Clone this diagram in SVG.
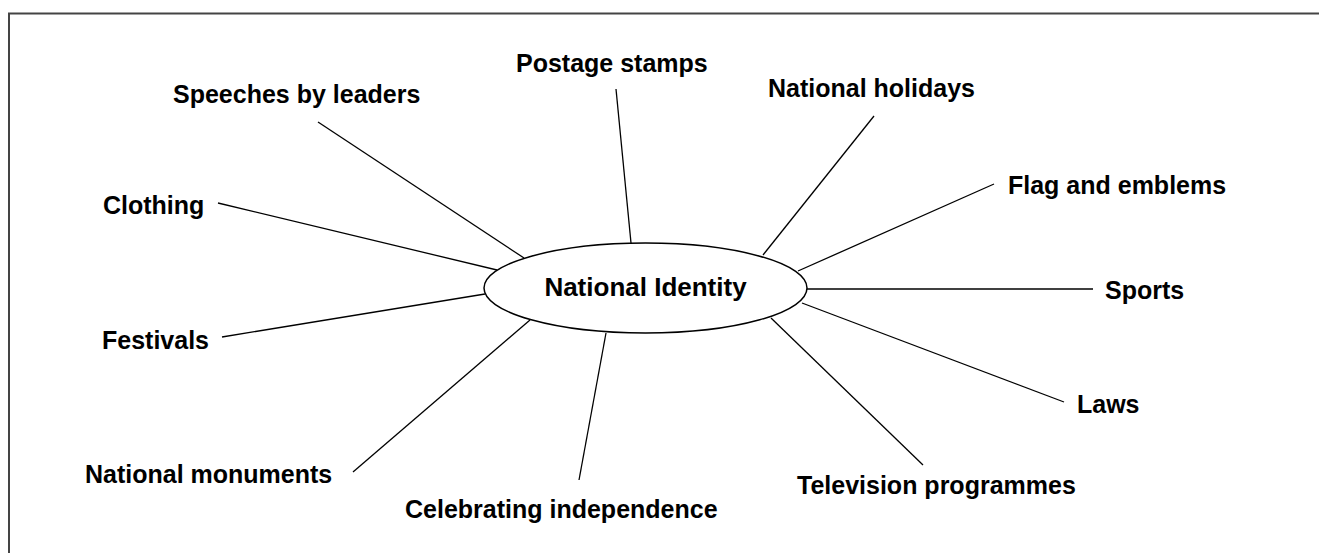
<svg xmlns="http://www.w3.org/2000/svg" width="1319" height="553" viewBox="0 0 1319 553">
  <style>
    .frame { fill: none; stroke: #444444; stroke-width: 2; }
    .spoke { stroke: #000000; stroke-width: 1.3; fill: none; }
    .hub { fill: #ffffff; stroke: #000000; stroke-width: 1.5; }
    .label { font-family: "Liberation Sans", Arial, sans-serif; font-weight: bold; font-size: 25px; fill: #000000; }
    .title { font-size: 26px; }
  </style>
  <rect width="1319" height="553" fill="#ffffff"/>
  <!-- open frame: top and left edges -->
  <path class="frame" d="M9,553 V13.5 H1319"/>

  <!-- connectors from the central ellipse to each label -->
  <g id="connectors">
    <line class="spoke" x1="631" y1="243" x2="616" y2="89"/>
    <line class="spoke" x1="763" y1="255" x2="874" y2="116"/>
    <line class="spoke" x1="798" y1="271" x2="994" y2="184"/>
    <line class="spoke" x1="807" y1="289" x2="1093" y2="289"/>
    <line class="spoke" x1="802" y1="303" x2="1064" y2="402"/>
    <line class="spoke" x1="771" y1="318" x2="923" y2="465"/>
    <line class="spoke" x1="606" y1="333" x2="579" y2="480"/>
    <line class="spoke" x1="530" y1="320" x2="353" y2="472"/>
    <line class="spoke" x1="485" y1="294" x2="222" y2="337"/>
    <line class="spoke" x1="497" y1="270" x2="218" y2="203"/>
    <line class="spoke" x1="524" y1="258" x2="318" y2="122"/>
  </g>

  <g id="node-national-identity">
    <ellipse class="hub" cx="645.5" cy="288" rx="161.5" ry="45"/>
    <text class="label title" x="645.5" y="296" text-anchor="middle">National Identity</text>
  </g>
  <g id="node-postage-stamps"><text class="label" x="516" y="72">Postage stamps</text></g>
  <g id="node-national-holidays"><text class="label" x="768" y="97">National holidays</text></g>
  <g id="node-flag-emblems"><text class="label" x="1008" y="194">Flag and emblems</text></g>
  <g id="node-sports"><text class="label" x="1105" y="299">Sports</text></g>
  <g id="node-laws"><text class="label" x="1077" y="413">Laws</text></g>
  <g id="node-television"><text class="label" x="797" y="494">Television programmes</text></g>
  <g id="node-celebrating"><text class="label" x="405" y="518">Celebrating independence</text></g>
  <g id="node-monuments"><text class="label" x="85" y="483">National monuments</text></g>
  <g id="node-festivals"><text class="label" x="102" y="349">Festivals</text></g>
  <g id="node-clothing"><text class="label" x="103" y="214">Clothing</text></g>
  <g id="node-speeches"><text class="label" x="173" y="103">Speeches by leaders</text></g>
</svg>
